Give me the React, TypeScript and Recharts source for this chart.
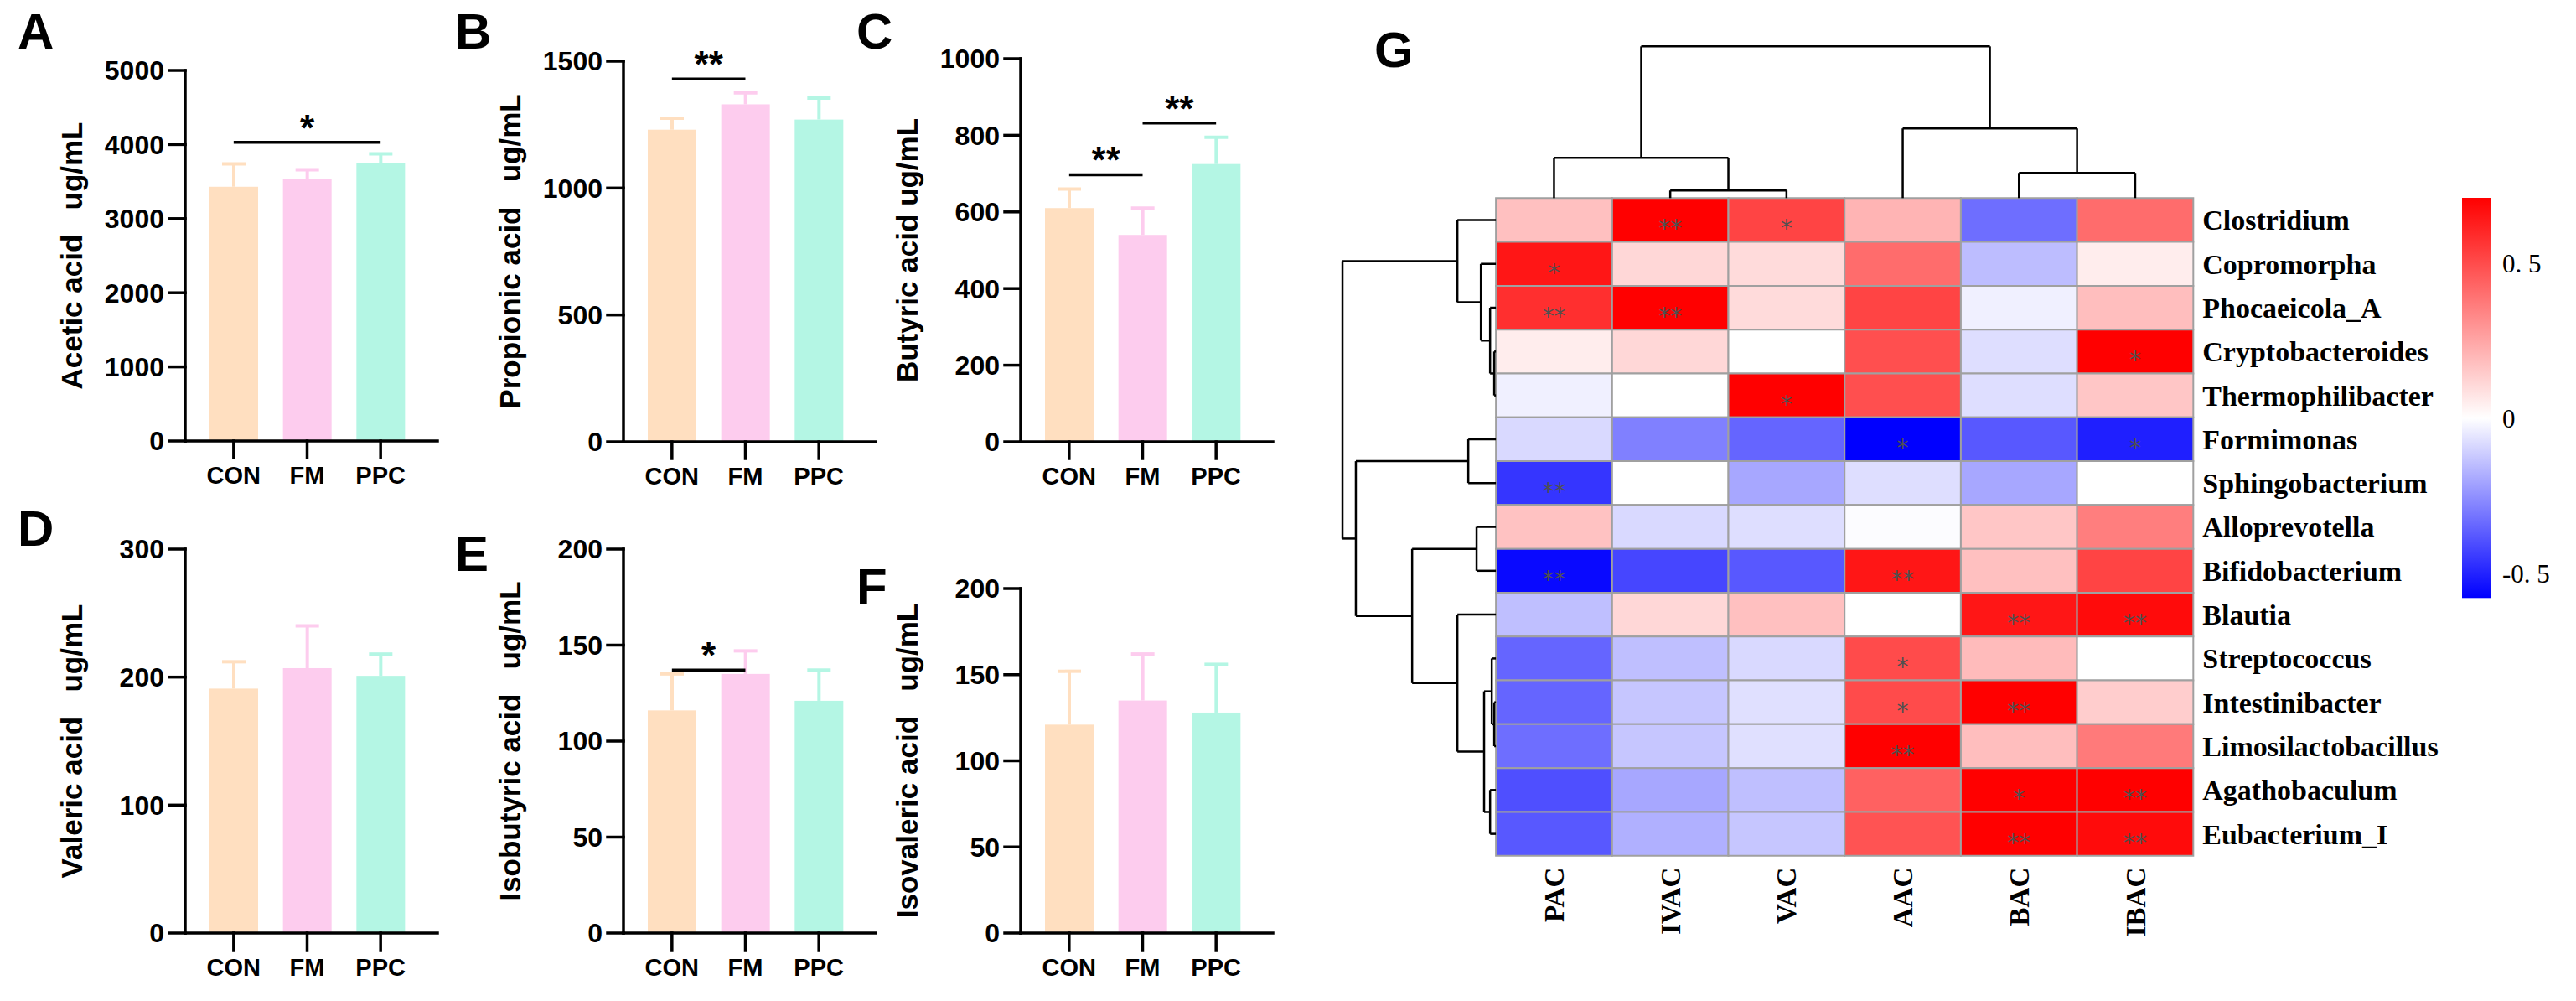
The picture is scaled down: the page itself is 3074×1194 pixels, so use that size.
import React from 'react';
import {
  Bar,
  BarChart,
  ReferenceArea,
  ReferenceLine,
  Scatter,
  ScatterChart,
  XAxis,
  YAxis
} from 'recharts';

// ---- bar panels (A-F) ----
const groups = ['CON', 'FM', 'PPC'];
const groupColors = ['#FFDFC0', '#FDCCEE', '#B4F6E4'];

const aceticMean = [3430, 3530, 3750];
const aceticSd = [310, 130, 125];
const aceticTicks = [0, 1000, 2000, 3000, 4000, 5000];

const propionicMean = [1230, 1330, 1270];
const propionicSd = [45, 45, 85];
const propionicTicks = [0, 500, 1000, 1500];

const butyricMean = [610, 540, 725];
const butyricSd = [50, 70, 70];
const butyricTicks = [0, 200, 400, 600, 800, 1000];

const valericMean = [191, 207, 201];
const valericSd = [21, 33, 17];
const valericTicks = [0, 100, 200, 300];

const isobutyricMean = [116, 135, 121];
const isobutyricSd = [19, 12, 16];
const isobutyricTicks = [0, 50, 100, 150, 200];

const isovalericMean = [121, 135, 128];
const isovalericSd = [31, 27, 28];
const isovalericTicks = [0, 50, 100, 150, 200];

const aceticSig = [{ from: 'CON', to: 'PPC', at: 4030, mark: '*' }];
const propionicSig = [{ from: 'CON', to: 'FM', at: 1430, mark: '**' }];
const butyricSig = [
  { from: 'CON', to: 'FM', at: 697, mark: '**' },
  { from: 'FM', to: 'PPC', at: 832, mark: '**' }
];
const isobutyricSig = [{ from: 'CON', to: 'FM', at: 137, mark: '*' }];

// ---- heatmap (G) ----
const acids = ['PAC', 'IVAC', 'VAC', 'AAC', 'BAC', 'IBAC'];
const genera = [
  'Clostridium',
  'Copromorpha',
  'Phocaeicola_A',
  'Cryptobacteroides',
  'Thermophilibacter',
  'Formimonas',
  'Sphingobacterium',
  'Alloprevotella',
  'Bifidobacterium',
  'Blautia',
  'Streptococcus',
  'Intestinibacter',
  'Limosilactobacillus',
  'Agathobaculum',
  'Eubacterium_I'
];
const corrValues = [
  [0.175, 0.71, 0.52, 0.21, -0.33, 0.41],
  [0.65, 0.11, 0.1, 0.41, -0.15, 0.05],
  [0.58, 0.71, 0.1, 0.52, -0.035, 0.18],
  [0.05, 0.11, 0.0, 0.49, -0.075, 0.71],
  [-0.035, 0.0, 0.71, 0.49, -0.075, 0.16],
  [-0.087, -0.29, -0.35, -0.58, -0.38, -0.51],
  [-0.46, 0.0, -0.2, -0.075, -0.2, 0.0],
  [0.17, -0.087, -0.075, -0.006, 0.16, 0.36],
  [-0.56, -0.42, -0.38, 0.65, 0.175, 0.52],
  [-0.145, 0.11, 0.175, 0.0, 0.65, 0.68],
  [-0.35, -0.145, -0.087, 0.5, 0.19, 0.0],
  [-0.35, -0.13, -0.07, 0.5, 0.71, 0.14],
  [-0.33, -0.13, -0.07, 0.71, 0.18, 0.37],
  [-0.4, -0.2, -0.145, 0.44, 0.71, 0.71],
  [-0.38, -0.18, -0.13, 0.48, 0.71, 0.68]
];
const sigMarks = [
  ['', '**', '*', '', '', ''],
  ['*', '', '', '', '', ''],
  ['**', '**', '', '', '', ''],
  ['', '', '', '', '', '*'],
  ['', '', '*', '', '', ''],
  ['', '', '', '*', '', '*'],
  ['**', '', '', '', '', ''],
  ['', '', '', '', '', ''],
  ['**', '', '', '**', '', ''],
  ['', '', '', '', '**', '**'],
  ['', '', '', '*', '', ''],
  ['', '', '', '*', '**', ''],
  ['', '', '', '**', '', ''],
  ['', '', '', '', '*', '**'],
  ['', '', '', '', '**', '**']
];
const colorMax = 0.71;
const colorMin = -0.58;
const colorbarTicks = [0.5, 0, -0.5];

// linkage: [left, right, height relative to root]; nodes >= leaf count are merges
const acidLinkage = [
  [1, 2, 0.05],
  [0, 6, 0.265],
  [4, 5, 0.166],
  [3, 8, 0.459],
  [7, 9, 1.0]
];
const genusLinkage = [
  [3, 4, 0.011],
  [2, 15, 0.038],
  [1, 16, 0.098],
  [0, 17, 0.251],
  [5, 6, 0.18],
  [7, 8, 0.126],
  [11, 12, 0.011],
  [10, 21, 0.027],
  [13, 14, 0.038],
  [22, 23, 0.077],
  [9, 24, 0.251],
  [20, 25, 0.546],
  [19, 26, 0.913],
  [18, 27, 1.0]
];

const SANS = '"Liberation Sans", Arial, sans-serif';
const SERIF = '"Liberation Serif", "Times New Roman", serif';

const Y_AXIS_W = 200;
const PLOT_W = 301;
const TOP_PAD = 50;
const RIGHT_PAD = 10;
const X_AXIS_H = 80;
const TITLE_GAP = 136;
const axisStroke = { stroke: '#000', strokeWidth: 3.5, strokeLinecap: 'square' as const };

function BarWithError(props: any) {
  const { x, y, width, height, payload } = props;
  const color = groupColors[groups.indexOf(payload.group)];
  const capY = y - (height * payload.sd) / payload.mean;
  const cx = x + width / 2;
  return (
    <g>
      <line x1={cx} x2={cx} y1={y} y2={capY} stroke={color} strokeWidth={4} />
      <line x1={cx - 14} x2={cx + 14} y1={capY} y2={capY} stroke={color} strokeWidth={4} />
      <rect x={x} y={y} width={width} height={height} fill={color} />
    </g>
  );
}

function axisTitle(text: string) {
  return (props: any) => {
    const vb = props.viewBox || {};
    const cx = vb.x + vb.width - TITLE_GAP;
    const cy = vb.y + vb.height / 2;
    return (
      <text
        x={cx}
        y={cy}
        dy="0.36em"
        transform={`rotate(-90, ${cx}, ${cy})`}
        textAnchor="middle"
        fontFamily={SANS}
        fontWeight={700}
        fontSize={35}
        fill="#000"
        style={{ whiteSpace: 'pre' }}
      >
        {text}
      </text>
    );
  };
}

interface PanelProps {
  means: number[];
  sds: number[];
  ticks: number[];
  title: string;
  axisX: number;
  topY: number;
  zeroY: number;
  sig?: { from: string; to: string; at: number; mark: string }[];
}

function BarPanel({ means, sds, ticks, title, axisX, topY, zeroY, sig = [] }: PanelProps) {
  const data = groups.map((g, i) => ({ group: g, mean: means[i], sd: sds[i] }));
  const plotH = zeroY - topY;
  const max = ticks[ticks.length - 1];
  return (
    <div style={{ position: 'absolute', left: axisX - Y_AXIS_W, top: topY - TOP_PAD }}>
      <BarChart
        width={Y_AXIS_W + PLOT_W + RIGHT_PAD}
        height={TOP_PAD + plotH + X_AXIS_H}
        data={data}
        margin={{ top: TOP_PAD, right: RIGHT_PAD, left: 0, bottom: 0 }}
      >
        <XAxis
          dataKey="group"
          padding={{ left: 14, right: 24 }}
          height={X_AXIS_H}
          tickSize={20}
          tickMargin={10}
          interval={0}
          axisLine={axisStroke}
          tickLine={axisStroke}
          tick={{ fill: '#000', fontSize: 29, fontWeight: 700, fontFamily: SANS }}
        />
        <YAxis
          type="number"
          domain={[0, max]}
          ticks={ticks}
          allowDataOverflow
          interval={0}
          width={Y_AXIS_W}
          tickSize={19}
          tickMargin={6}
          axisLine={axisStroke}
          tickLine={axisStroke}
          tick={{ fill: '#000', fontSize: 32, fontWeight: 700, fontFamily: SANS }}
          label={axisTitle(title)}
        />
        <Bar dataKey="mean" barSize={58} shape={BarWithError} isAnimationActive={false} />
        {sig.map((s) => (
          <ReferenceLine
            key={`${s.from}-${s.to}`}
            segment={[
              { x: s.from, y: s.at },
              { x: s.to, y: s.at }
            ]}
            stroke="#000"
            strokeWidth={3.5}
            ifOverflow="visible"
            label={{
              value: s.mark,
              position: 'top',
              offset: 2,
              fill: '#000',
              fontSize: 44,
              fontWeight: 700,
              fontFamily: SANS
            }}
          />
        ))}
      </BarChart>
    </div>
  );
}

// ---- heatmap helpers ----
function cellColor(v: number) {
  if (v >= 0) {
    const t = Math.min(1, v / colorMax);
    const c = Math.round(255 * (1 - t));
    return `rgb(255,${c},${c})`;
  }
  const t = Math.min(1, v / colorMin);
  const c = Math.round(255 * (1 - t));
  return `rgb(${c},${c},255)`;
}

function treeSegments(linkage: number[][], nLeaves: number) {
  const pos: number[] = [];
  const h: number[] = [];
  for (let i = 0; i < nLeaves; i++) {
    pos[i] = i + 0.5;
    h[i] = 0;
  }
  const segs: number[][] = [];
  linkage.forEach(([a, b, height], k) => {
    const id = nLeaves + k;
    pos[id] = (pos[a] + pos[b]) / 2;
    h[id] = height;
    segs.push([pos[a], h[a], pos[a], height]);
    segs.push([pos[b], h[b], pos[b], height]);
    segs.push([pos[a], height, pos[b], height]);
  });
  return segs;
}

const HM_LEFT = 1785;
const HM_TOP = 236;
const CELL_W = 138.7;
const CELL_H = 52.3;
const X_MIN = -1.45;
const Y_MIN = -3.6;
const COL_TREE_SPAN = 3.46; // in row units
const ROW_TREE_SPAN = 1.32; // in column units
const HM_YAXIS_W = 330;
const HM_XAXIS_H = 140;

function StarShape(props: any) {
  const { cx, cy, payload } = props;
  return (
    <text x={cx} y={cy + 20} textAnchor="middle" fontSize={28} fill="#505050" fontFamily='"DejaVu Sans", sans-serif'>
      {payload.mark}
    </text>
  );
}

function GenusTick(props: any) {
  const { x, y, payload } = props;
  const name = genera[Math.floor(payload.value)];
  return (
    <text x={x} y={y} dy="0.35em" textAnchor="start" fontFamily={SERIF} fontWeight={700} fontSize={34} fill="#000">
      {name}
    </text>
  );
}

function AcidTick(props: any) {
  const { x, y, payload } = props;
  const name = acids[Math.floor(payload.value)];
  return (
    <text
      x={x}
      y={y}
      dy="0.35em"
      transform={`rotate(-90, ${x}, ${y})`}
      textAnchor="end"
      fontFamily={SERIF}
      fontWeight={700}
      fontSize={33}
      fill="#000"
    >
      {name}
    </text>
  );
}

function Heatmap() {
  const plotW = (acids.length - X_MIN) * CELL_W;
  const plotH = (genera.length - Y_MIN) * CELL_H;
  const cells: { r: number; c: number; v: number }[] = [];
  corrValues.forEach((row, r) => row.forEach((v, c) => cells.push({ r, c, v })));
  const stars: { x: number; y: number; mark: string }[] = [];
  sigMarks.forEach((row, r) =>
    row.forEach((m, c) => {
      if (m) stars.push({ x: c + 0.5, y: r + 0.5, mark: m });
    })
  );
  const colSegs = treeSegments(acidLinkage, acids.length);
  const rowSegs = treeSegments(genusLinkage, genera.length);

  return (
    <div
      style={{
        position: 'absolute',
        left: HM_LEFT + X_MIN * CELL_W,
        top: HM_TOP + Y_MIN * CELL_H
      }}
    >
      <ScatterChart
        width={plotW + HM_YAXIS_W}
        height={plotH + HM_XAXIS_H}
        margin={{ top: 0, right: 0, bottom: 0, left: 0 }}
      >
        <XAxis
          type="number"
          dataKey="x"
          domain={[X_MIN, acids.length]}
          allowDataOverflow
          ticks={acids.map((_, i) => i + 0.5)}
          interval={0}
          height={HM_XAXIS_H}
          axisLine={false}
          tickLine={false}
          tickSize={0}
          tickMargin={14}
          tick={AcidTick}
        />
        <YAxis
          type="number"
          dataKey="y"
          orientation="right"
          reversed
          domain={[Y_MIN, genera.length]}
          allowDataOverflow
          ticks={genera.map((_, i) => i + 0.5)}
          interval={0}
          width={HM_YAXIS_W}
          axisLine={false}
          tickLine={false}
          tickSize={0}
          tickMargin={11}
          tick={GenusTick}
        />
        {cells.map((cell) => (
          <ReferenceArea
            key={`cell-${cell.r}-${cell.c}`}
            x1={cell.c}
            x2={cell.c + 1}
            y1={cell.r}
            y2={cell.r + 1}
            fill={cellColor(cell.v)}
            fillOpacity={1}
            stroke="#a0a0a0"
            strokeWidth={2}
            ifOverflow="visible"
          />
        ))}
        {colSegs.map(([p1, h1, p2, h2], i) => (
          <ReferenceLine
            key={`col-${i}`}
            segment={[
              { x: p1, y: -h1 * COL_TREE_SPAN },
              { x: p2, y: -h2 * COL_TREE_SPAN }
            ]}
            stroke="#000"
            strokeWidth={2.5}
            ifOverflow="visible"
          />
        ))}
        {rowSegs.map(([p1, h1, p2, h2], i) => (
          <ReferenceLine
            key={`row-${i}`}
            segment={[
              { x: -h1 * ROW_TREE_SPAN, y: p1 },
              { x: -h2 * ROW_TREE_SPAN, y: p2 }
            ]}
            stroke="#000"
            strokeWidth={2.5}
            ifOverflow="visible"
          />
        ))}
        <Scatter data={stars} shape={StarShape} isAnimationActive={false} />
      </ScatterChart>
    </div>
  );
}

// colour bar legend
const CB_X = 2938;
const CB_TOP = 236;
const CB_W = 35;
const CB_PX_PER_UNIT = 370;

function ColorBar() {
  const zeroY = CB_TOP + colorMax * CB_PX_PER_UNIT;
  const bottom = zeroY - colorMin * CB_PX_PER_UNIT;
  const h = bottom - CB_TOP;
  const zeroFrac = (zeroY - CB_TOP) / h;
  return (
    <g>
      <defs>
        <linearGradient id="cbGrad" x1="0" y1="0" x2="0" y2="1">
          <stop offset="0" stopColor="#ff0000" />
          <stop offset={zeroFrac} stopColor="#ffffff" />
          <stop offset="1" stopColor="#0000ff" />
        </linearGradient>
      </defs>
      <rect x={CB_X} y={CB_TOP} width={CB_W} height={h} fill="url(#cbGrad)" />
      {colorbarTicks.map((t) => (
        <text
          key={t}
          x={CB_X + 48}
          y={zeroY - t * CB_PX_PER_UNIT}
          dy="0.35em"
          fontFamily={SERIF}
          fontSize={31}
          fill="#000"
          style={{ whiteSpace: 'pre' }}
        >
          {t === 0 ? '0' : `${t < 0 ? '-' : ''}0. ${Math.round(Math.abs(t) * 10)}`}
        </text>
      ))}
    </g>
  );
}

const letterStyle = { fontFamily: SANS, fontWeight: 700, fontSize: 60, fill: '#000' };

export default function App() {
  return (
    <div
      style={{
        position: 'absolute',
        left: 0,
        top: 0,
        width: 3074,
        height: 1194,
        background: '#fff',
        overflow: 'hidden'
      }}
    >
      <svg width={3074} height={1194} style={{ position: 'absolute', left: 0, top: 0 }}>
        <text x={21} y={58} {...letterStyle}>A</text>
        <text x={543} y={58} {...letterStyle}>B</text>
        <text x={1022} y={58} {...letterStyle}>C</text>
        <text x={21} y={651} {...letterStyle}>D</text>
        <text x={543} y={681} {...letterStyle}>E</text>
        <text x={1022} y={720} {...letterStyle}>F</text>
        <text x={1640} y={80} {...letterStyle}>G</text>
        <ColorBar />
      </svg>

      <BarPanel means={aceticMean} sds={aceticSd} ticks={aceticTicks} title={'Acetic acid\u00a0\u00a0\u00a0ug/mL'} axisX={221} topY={84} zeroY={526} sig={aceticSig} />
      <BarPanel means={propionicMean} sds={propionicSd} ticks={propionicTicks} title={'Propionic acid\u00a0\u00a0\u00a0ug/mL'} axisX={744} topY={73} zeroY={527} sig={propionicSig} />
      <BarPanel means={butyricMean} sds={butyricSd} ticks={butyricTicks} title="Butyric acid ug/mL" axisX={1218} topY={70} zeroY={527} sig={butyricSig} />
      <BarPanel means={valericMean} sds={valericSd} ticks={valericTicks} title={'Valeric acid\u00a0\u00a0\u00a0ug/mL'} axisX={221} topY={655} zeroY={1113} />
      <BarPanel means={isobutyricMean} sds={isobutyricSd} ticks={isobutyricTicks} title={'Isobutyric acid\u00a0\u00a0\u00a0ug/mL'} axisX={744} topY={655} zeroY={1113} sig={isobutyricSig} />
      <BarPanel means={isovalericMean} sds={isovalericSd} ticks={isovalericTicks} title={'Isovaleric acid\u00a0\u00a0\u00a0ug/mL'} axisX={1218} topY={702} zeroY={1113} />

      <Heatmap />
    </div>
  );
}
